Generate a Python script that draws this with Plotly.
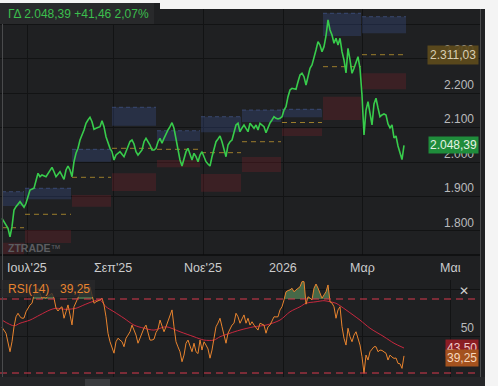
import numpy as np
import plotly.graph_objects as go

W, H = 498, 386
FONT = "Liberation Sans, Arial, sans-serif"
BG = "#1f2022"
GRID = "#121314"

# ---------------- data ----------------
index_name = "ΓΔ"
sessions = [0, 1, 3, 4, 5, 6, 7, 9, 10, 11, 12, 13, 14, 16, 17, 18, 19, 20, 22, 23, 25, 26, 27, 29, 30,
            31, 32, 33, 34, 35, 36, 37, 38, 39, 41, 42, 43, 44, 45, 46, 47, 49, 50, 51, 52, 54, 55, 56, 57,
            59, 61, 62, 64, 65, 66, 67, 68, 70, 71, 72, 74, 75, 76, 77, 78, 79, 80, 81, 82, 83, 84, 85, 86,
            87, 88, 89, 90, 91, 92, 93, 94, 95, 96, 97, 98, 99, 100, 101, 102, 103, 104, 105, 106, 107, 108,
            109, 110, 111, 112, 113, 114, 115, 116, 117, 118, 119, 120, 121, 122, 123, 124, 125, 126, 127,
            128, 129, 130, 131, 132, 133, 134, 135, 136, 137, 138, 139, 140, 141, 142, 143, 144, 145, 146,
            147, 148, 149, 150, 151, 152, 153, 154, 155, 156, 157, 158, 159, 160, 161, 162, 163, 164, 165,
            166, 167, 168, 169, 170, 171, 172, 173, 174, 175, 176, 177, 178, 179, 180, 181, 182, 183, 184,
            185, 186, 187, 188, 189, 190, 191, 192, 193, 194, 195, 196, 197, 198, 199, 200, 201]
close = [1836.8, 1826.9, 1807.8, 1783.4, 1812.4, 1860.8, 1870.4, 1884.9, 1875.3, 1868.7, 1880.3, 1899.4,
         1918.8, 1923.8, 1947.8, 1967.2, 1957.4, 1962.3, 1957.4, 1967.2, 1984.6, 1971.9, 1957.4, 1971.9,
         1962.3, 1949.8, 1976.8, 1988.4, 1976.8, 1957.4, 2000.9, 2025.2, 2039.7, 2063.8, 2092.8, 2112.2,
         2121.8, 2129.6, 2116.8, 2094.8, 2097.7, 2102.3, 2119.7, 2102.3, 2073.3, 2039.7, 2029.9, 2005.8,
         2020.3, 2029.9, 2015.4, 2029.9, 2059.4, 2063.8, 2052.2, 2029.9, 2020.3, 2034.8, 2058.8, 2068.7,
         2049.3, 2034.8, 2034.8, 2039.7, 2058.8, 2068.7, 2054.2, 2068.7, 2083.2, 2092.8, 2102.3, 2113.9,
         2097.7, 2068.7, 2034.8, 2005.8, 1988.4, 2005.8, 2029.9, 2039.7, 2020.3, 2005.8, 2025.2, 2015.4,
         2000.9, 2020.3, 2029.9, 2015.4, 2000.9, 1994.2, 1988.4, 2015.4, 2039.7, 2058.8, 2066.7, 2075.4,
         2058.8, 2034.8, 2015.4, 2049.3, 2058.8, 2063.8, 2083.2, 2107.3, 2112.2, 2087.8, 2098.6, 2107.3,
         2097.7, 2087.8, 2112.2, 2104.4, 2097.7, 2107.3, 2092.8, 2112.2, 2107.3, 2102.3, 2084.9, 2102.3,
         2113.1, 2121.8, 2131.3, 2126.7, 2124.7, 2126.7, 2131.3, 2150.7, 2160.3, 2189.3, 2208.7, 2213.7,
         2213.0, 2211.0, 2232.8, 2252.2, 2257.1, 2247.3, 2223.2, 2252.2, 2271.6, 2281.2, 2300.6, 2324.7,
         2348.8, 2339.2, 2319.8, 2334.3, 2365.3, 2411.7, 2382.7, 2368.2, 2344.1, 2358.6, 2339.2, 2358.6,
         2319.8, 2295.7, 2258.0, 2329.6, 2295.7, 2257.1, 2271.6, 2289.9, 2305.3, 2271.6, 2194.2, 2078.3,
         2150.7, 2174.8, 2141.2, 2107.3, 2168.1, 2184.7, 2156.5, 2131.3, 2136.3, 2139.2, 2136.3, 2110.2,
         2098.6, 2107.3, 2069.6, 2075.4, 2046.4, 2029.0, 2006.93, 2048.39]

rsi_sessions = list(range(0, 202))
rsi_sessions.remove(1); rsi_sessions.remove(3)
rsi = [54.7, 51.5, 41.5, 46.9, 55.0, 60.4, 62.3, 60.4, 59.6, 59.7, 63.1, 65.1, 66.8, 67.7, 72.2, 74.3, 75.8,
       73.1, 70.4, 71.2, 70.4, 71.6, 72.2, 73.1, 70.4, 65.1, 63.5, 65.0, 65.8, 59.6, 63.1, 66.8, 61.4, 56.0,
       65.8, 68.5, 70.4, 73.1, 74.1, 74.9, 75.8, 76.6, 76.6, 71.2, 67.7, 68.5, 68.9, 69.5, 70.4, 66.8, 60.4,
       51.5, 46.9, 44.2, 40.7, 46.9, 48.8, 47.8, 46.9, 44.2, 48.8, 50.5, 52.3, 55.9, 53.2, 50.5, 46.1, 48.9,
       51.5, 54.3, 55.9, 52.3, 47.8, 47.8, 48.3, 51.9, 53.7, 58.6, 55.4, 52.3, 55.0, 58.1, 60.4, 64.1, 55.0,
       46.9, 44.1, 41.5, 36.1, 39.7, 46.1, 47.8, 44.6, 41.5, 46.1, 41.5, 40.5, 47.8, 42.4, 46.9, 45.1, 43.0,
       38.0, 42.4, 48.8, 55.0, 57.0, 59.6, 55.0, 49.6, 46.1, 51.5, 54.2, 55.9, 56.9, 62.3, 60.4, 56.9, 59.2,
       61.4, 56.9, 59.6, 55.9, 57.7, 55.9, 54.2, 53.2, 56.9, 56.5, 55.9, 51.5, 55.0, 55.9, 58.6, 60.4, 60.3,
       60.4, 64.1, 65.8, 69.5, 73.9, 74.6, 74.9, 75.8, 73.9, 74.9, 75.9, 76.6, 79.4, 79.4, 67.2, 71.2, 70.5,
       69.5, 75.8, 78.1, 75.9, 73.1, 70.4, 72.2, 73.9, 77.6, 68.5, 67.8, 65.8, 59.6, 64.1, 65.8, 55.0, 48.8,
       45.1, 54.2, 49.6, 46.9, 50.5, 52.3, 48.8, 45.1, 38.8, 29.8, 39.7, 37.0, 41.5, 43.0, 44.2, 44.2, 41.5,
       42.4, 42.2, 41.4, 40.7, 37.0, 39.7, 38.6, 37.9, 38.1, 35.2, 35.0, 32.5, 39.25]

rsi_ma_sessions = [0, 6, 9, 14, 19, 24, 27, 32, 37, 41, 45, 49, 52, 56, 61, 66, 71, 76, 82, 89, 96, 101,
                   106, 109, 114, 119, 126, 132, 139, 144, 149, 152, 157, 161, 164, 167, 172, 179, 184,
                   191, 196, 201]
rsi_ma = [58.6, 55.5, 56.9, 58.6, 61.4, 64.1, 65.0, 64.4, 65.0, 66.8, 68.5, 69.5, 65.8, 63.1, 59.6, 55.9,
          54.2, 53.2, 55.0, 52.3, 49.6, 47.8, 47.8, 49.6, 51.5, 53.2, 55.0, 55.9, 58.6, 63.1, 65.8, 67.7,
          68.5, 69.1, 68.5, 67.7, 64.1, 58.6, 54.2, 49.6, 46.1, 43.5]

rsi_period = 14
rsi_upper, rsi_lower = 70, 30

month_ticks = [12.5, 55.5, 100.5, 140.5, 180, 224]
month_labels = ["Ιουλ'25", "Σεπ'25", "Νοε'25", "2026", "Μαρ", "Μαι"]

price_ticks = [1800, 1900, 2000, 2100, 2200, 2300, 2400]
price_tick_text = ["1.800", "1.900", "2.000", "2.100", "2.200", "2.300", ""]

# monthly pivot zones
piv_start = [0, 11.5, 35, 55, 77.5, 99.5, 120, 140, 160.5, 180]
piv_end = [11, 34.5, 54.5, 77, 99, 119.5, 139.5, 160, 179.5, 202]
piv_p = [1809.5, 1848.4, 1955.6, 2039.7, 2036.8, 2027.0, 2058.8, 2114.5, 2276.3, 2311.03]
res_lo = [1872.4, 1891.9, 2000.9, 2105.2, 2060.9, 2086.1, 2116.0, 2129.6, 2365.3, 2373.1]
res_hi = [1913.9, 1923.8, 2036.8, 2158.6, 2090.7, 2131.3, 2150.7, 2152.8, 2431.1, 2421.2]
sup_lo = [1720.0, 1765.0, 1870.4, 1915.9, 1984.6, 1914.0, 1971.0, 2075.4, 2121.8, 2210.8]
sup_hi = [1766.0, 1803.0, 1904.3, 1967.2, 2005.8, 1965.2, 2014.5, 2097.7, 2189.3, 2257.1]


def gr(v, d=2):
    s = f"{v:,.{d}f}"
    return s.replace(",", "X").replace(".", ",").replace("X", ".")


def py(px):
    return 1 - px / H


def pxx(px):
    return px / W


last = close[-1]
chg = close[-1] - close[-2]
pct = chg / close[-2] * 100

fig = go.Figure()

# RSI overbought fill (crossing points computed for a clean fill)
fx, fy = [], []
for i in range(len(rsi) - 1):
    x0, x1, y0, y1 = rsi_sessions[i], rsi_sessions[i + 1], rsi[i], rsi[i + 1]
    fx.append(x0); fy.append(y0)
    if (y0 - rsi_upper) * (y1 - rsi_upper) < 0:
        t = (rsi_upper - y0) / (y1 - y0)
        fx.append(x0 + t * (x1 - x0)); fy.append(rsi_upper)
fx.append(rsi_sessions[-1]); fy.append(rsi[-1])
fy_top = np.maximum(np.array(fy), rsi_upper)

fig.add_trace(go.Scatter(x=fx, y=[rsi_upper] * len(fx), xaxis="x2", yaxis="y2", mode="lines",
                         line=dict(width=0), hoverinfo="skip"))
fig.add_trace(go.Scatter(x=fx, y=fy_top, xaxis="x2", yaxis="y2", mode="lines", line=dict(width=0),
                         fill="tonexty", fillcolor="rgba(96,150,96,0.62)", hoverinfo="skip"))
fig.add_trace(go.Scatter(x=rsi_ma_sessions, y=rsi_ma, xaxis="x2", yaxis="y2", mode="lines",
                         line=dict(color="#c8283f", width=1, shape="spline", smoothing=0.8)))
fig.add_trace(go.Scatter(x=rsi_sessions, y=rsi, xaxis="x2", yaxis="y2", mode="lines",
                         line=dict(color="#e9842e", width=1)))

# price
fig.add_trace(go.Scatter(x=sessions, y=close, xaxis="x", yaxis="y", mode="lines",
                         line=dict(color="#38cc4c", width=1.6)))

shapes = []
for i in range(len(piv_start)):
    a, b = piv_start[i], piv_end[i]
    shapes.append(dict(type="rect", xref="x", yref="y", x0=a, x1=b, y0=res_lo[i], y1=res_hi[i],
                       fillcolor="rgba(70,100,185,0.24)", line=dict(width=0), layer="between"))
    shapes.append(dict(type="line", xref="x", yref="y", x0=a, x1=b, y0=res_hi[i], y1=res_hi[i],
                       line=dict(color="rgba(90,120,200,0.4)", width=1, dash="4px,3px"), layer="between"))
    shapes.append(dict(type="rect", xref="x", yref="y", x0=a, x1=b, y0=sup_lo[i], y1=sup_hi[i],
                       fillcolor="rgba(150,35,45,0.24)", line=dict(width=0), layer="between"))
    shapes.append(dict(type="line", xref="x", yref="y", x0=a, x1=b, y0=piv_p[i], y1=piv_p[i],
                       line=dict(color="#9c7d2c", width=1, dash="5px,4px"), layer="between"))

# RSI bands
for lvl in (rsi_upper, rsi_lower):
    shapes.append(dict(type="line", xref="paper", yref="y2", x0=0, x1=pxx(480), y0=lvl, y1=lvl,
                       line=dict(color="#d8394d", width=1.2, dash="7px,5px")))

# frame lines
shapes += [
    dict(type="line", xref="paper", yref="paper", x0=0, x1=pxx(480), y0=py(255), y1=py(255),
         line=dict(color="#0d0d0e", width=1.5)),
    dict(type="line", xref="paper", yref="paper", x0=pxx(480.5), x1=pxx(480.5), y0=0, y1=py(9),
         line=dict(color="#4a4b4d", width=1)),
    dict(type="line", xref="paper", yref="paper", x0=pxx(2.5), x1=pxx(2.5), y0=py(377), y1=py(9),
         line=dict(color="#4a4b4d", width=1)),
    # bottom toolbar
    dict(type="rect", xref="paper", yref="paper", x0=0, x1=pxx(485), y0=0, y1=py(377),
         fillcolor="#252628", line=dict(width=0)),
    dict(type="rect", xref="paper", yref="paper", x0=pxx(85), x1=pxx(110), y0=0, y1=py(379),
         fillcolor="#3a3b3e", line=dict(width=0)),
    # page background strips
    dict(type="rect", xref="paper", yref="paper", x0=pxx(485), x1=1, y0=0, y1=1,
         fillcolor="#f4f4f4", line=dict(width=0)),
    dict(type="rect", xref="paper", yref="paper", x0=0, x1=1, y0=py(3), y1=1,
         fillcolor="#f4f4f4", line=dict(width=0)),
    dict(type="rect", xref="paper", yref="paper", x0=pxx(160), x1=1, y0=py(9), y1=1,
         fillcolor="#f4f4f4", line=dict(width=0)),
    # header and RSI legend boxes
    dict(type="rect", xref="paper", yref="paper", x0=0, x1=pxx(154), y0=py(24), y1=py(3),
         fillcolor="#28292b", line=dict(width=0)),
    dict(type="rect", xref="paper", yref="paper", x0=pxx(1), x1=pxx(95), y0=py(297), y1=py(280),
         fillcolor="rgba(40,40,42,0.8)", line=dict(width=0)),
]

ann = [
    dict(xref="paper", yref="paper", x=pxx(6), y=py(14), xanchor="left", yanchor="middle", showarrow=False,
         text=f"{index_name} {gr(last)} +{gr(chg)} {gr(pct)}%",
         font=dict(family=FONT, size=12, color="#3cbf4d")),
    dict(xref="paper", yref="paper", x=pxx(6), y=py(248), xanchor="left", yanchor="middle", showarrow=False,
         text="<b>ZTRADE</b>™", font=dict(family=FONT, size=10.5, color="#5c5d60")),
    dict(xref="paper", yref="y", x=pxx(479), y=piv_p[-1], xanchor="right", yanchor="middle", showarrow=False,
         text=gr(piv_p[-1]), bgcolor="rgba(92,74,28,0.93)", borderpad=2,
         font=dict(family=FONT, size=12, color="#d9cfb4")),
    dict(xref="paper", yref="y", x=pxx(479), y=last, xanchor="right", yanchor="middle", showarrow=False,
         text=gr(last), bgcolor="#1f8c3b", borderpad=1,
         font=dict(family=FONT, size=12, color="#e4f3e4")),
    dict(xref="paper", yref="paper", x=pxx(6), y=py(288.5), xanchor="left", yanchor="middle", showarrow=False,
         text=f"RSI({rsi_period})", font=dict(family=FONT, size=12, color="#e8842f")),
    dict(xref="paper", yref="paper", x=pxx(58), y=py(288.5), xanchor="left", yanchor="middle", showarrow=False,
         text=gr(rsi[-1]), font=dict(family=FONT, size=12, color="#e8842f")),
    dict(xref="paper", yref="paper", x=pxx(464), y=py(291), xanchor="center", yanchor="middle", showarrow=False,
         text="✕", font=dict(family="DejaVu Sans", size=12, color="#d0d0d0")),
    dict(xref="paper", yref="y2", x=pxx(479), y=rsi_ma[-1], xanchor="right", yanchor="middle", showarrow=False,
         text=gr(rsi_ma[-1]), bgcolor="#8c1d24", borderpad=1,
         font=dict(family=FONT, size=12, color="#f1c9c9")),
    dict(xref="paper", yref="y2", x=pxx(479), y=rsi[-1], yshift=-2, xanchor="right", yanchor="middle",
         showarrow=False, text=gr(rsi[-1]), bgcolor="#a4521e", borderpad=1,
         font=dict(family=FONT, size=12, color="#f7d7bc")),
]
# month labels of the time axis
for tv, tl in zip(month_ticks, month_labels):
    ann.append(dict(xref="x", yref="paper", x=tv, y=py(268), xanchor="center", yanchor="middle",
                    showarrow=False, text=tl, font=dict(family=FONT, size=12.5, color="#cbcccd")))

tickfont = dict(family=FONT, size=12, color="#b9babc")
fig.update_layout(
    width=W, height=H, margin=dict(l=0, r=0, t=0, b=0),
    paper_bgcolor=BG, plot_bgcolor=BG, showlegend=False,
    xaxis=dict(domain=[0, pxx(480)], range=[-1, 239], anchor="y", tickvals=month_ticks,
               showticklabels=False, showgrid=True, gridcolor=GRID, gridwidth=1, zeroline=False,
               showline=False, ticks=""),
    yaxis=dict(domain=[py(255), py(9)], range=[1730.4, 2443.5], anchor="x", side="right",
               tickvals=price_ticks, ticktext=price_tick_text, ticklabelposition="inside top",
               ticklabelstandoff=3, showgrid=True, gridcolor=GRID, gridwidth=1,
               zeroline=False, showline=False, ticks="", tickfont=tickfont),
    xaxis2=dict(domain=[0, pxx(480)], range=[-1, 239], anchor="y2", matches="x", tickvals=month_ticks,
                showticklabels=False, showgrid=True, gridcolor=GRID, gridwidth=1, zeroline=False,
                showline=False, ticks=""),
    yaxis2=dict(domain=[py(377), py(280)], range=[27.84, 80.27], anchor="x2", side="right",
                tickvals=[50, 75], ticktext=["50", ""], ticklabelposition="inside top",
                ticklabelstandoff=3, showgrid=True, gridcolor=GRID, gridwidth=1, zeroline=False,
                showline=False, ticks="", tickfont=tickfont),
    shapes=shapes, annotations=ann,
)

fig.write_html("out.html", config={"displayModeBar": False},
               post_script="document.body.style.margin='0px';")
